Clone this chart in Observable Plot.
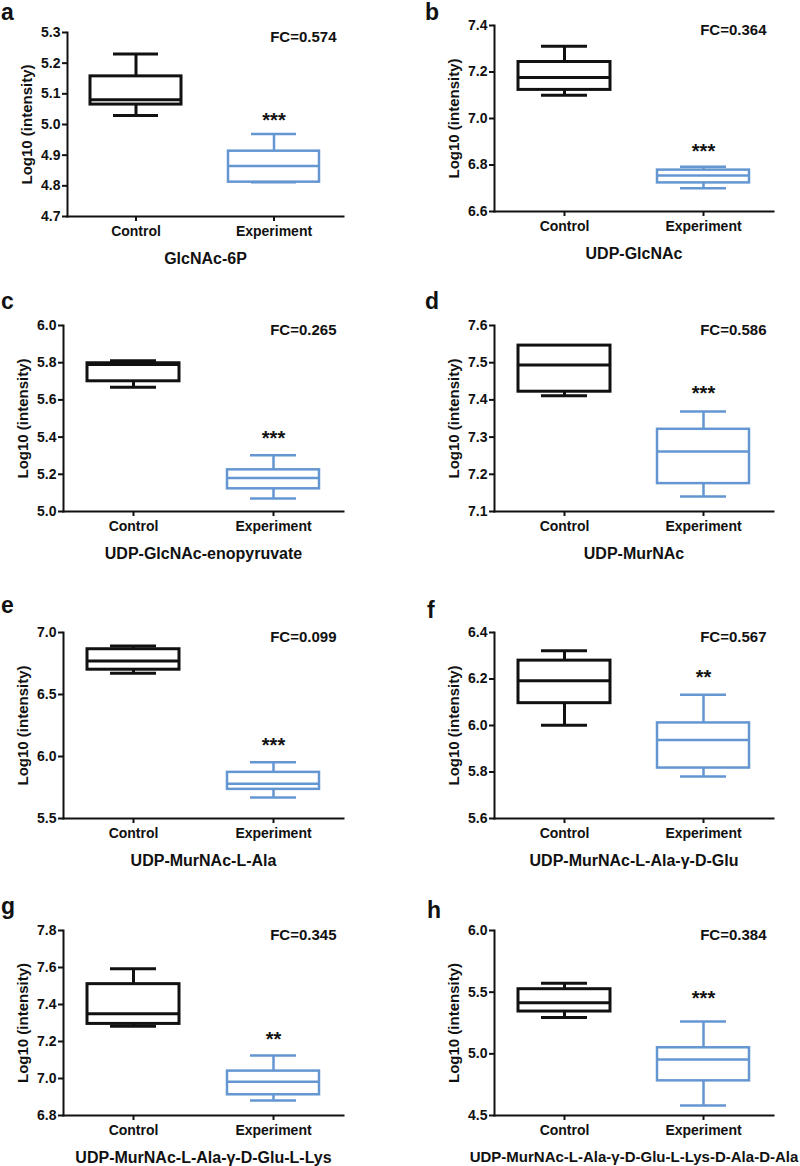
<!DOCTYPE html>
<html>
<head>
<meta charset="utf-8">
<script src="https://cdn.jsdelivr.net/npm/d3@7"></script>
<script src="https://cdn.jsdelivr.net/npm/@observablehq/plot@0.6"></script>
<style>
  html, body { margin: 0; padding: 0; background: #fff; }
  #root { position: relative; width: 800px; height: 1166px; overflow: hidden; font-family: "Liberation Sans", Arial, sans-serif; }
  .panel { position: absolute; }
  .letter { position: absolute; font-size: 23px; line-height: 23px; font-weight: bold; color: #111; }
</style>
</head>
<body>
<div id="root"></div>
<script>
// ---- data ----
const panelLetters = ["a", "b", "c", "d", "e", "f", "g", "h"];
const metabolites = [
  "GlcNAc-6P",
  "UDP-GlcNAc",
  "UDP-GlcNAc-enopyruvate",
  "UDP-MurNAc",
  "UDP-MurNAc-L-Ala",
  "UDP-MurNAc-L-Ala-γ-D-Glu",
  "UDP-MurNAc-L-Ala-γ-D-Glu-L-Lys",
  "UDP-MurNAc-L-Ala-γ-D-Glu-L-Lys-D-Ala-D-Ala"
];
const groups = ["Control", "Experiment"];
const foldChanges = ["FC=0.574", "FC=0.364", "FC=0.265", "FC=0.586", "FC=0.099", "FC=0.567", "FC=0.345", "FC=0.384"];
const sigLabels = ["***", "***", "***", "***", "***", "**", "**", "***"];
const sigY = [5.018, 6.868, 5.402, 7.422, 6.102, 6.216, 7.223, 5.468];
const yLabel = "Log10 (intensity)";

const yMin = [4.7, 6.6, 5.0, 7.1, 5.5, 5.6, 6.8, 4.5];
const yMax = [5.3, 7.4, 6.0, 7.6, 7.0, 6.4, 7.8, 6.0];
const yTicks = [
  [4.7, 4.8, 4.9, 5.0, 5.1, 5.2, 5.3],
  [6.6, 6.8, 7.0, 7.2, 7.4],
  [5.0, 5.2, 5.4, 5.6, 5.8, 6.0],
  [7.1, 7.2, 7.3, 7.4, 7.5, 7.6],
  [5.5, 6.0, 6.5, 7.0],
  [5.6, 5.8, 6.0, 6.2, 6.4],
  [6.8, 7.0, 7.2, 7.4, 7.6, 7.8],
  [4.5, 5.0, 5.5, 6.0]
];

// Control box statistics
const ctlMin = [5.029, 7.100, 5.668, 7.411, 6.671, 6.001, 7.283, 5.295];
const ctlQ1  = [5.065, 7.123, 5.700, 7.422, 6.700, 6.096, 7.295, 5.343];
const ctlMed = [5.081, 7.176, 5.790, 7.494, 6.771, 6.193, 7.350, 5.414];
const ctlQ3  = [5.157, 7.243, 5.797, 7.546, 6.865, 6.279, 7.510, 5.524];
const ctlMax = [5.230, 7.311, 5.810, 7.546, 6.892, 6.322, 7.593, 5.573];
// Experiment box statistics
const expMin = [4.812, 6.700, 5.070, 7.140, 5.670, 5.781, 6.881, 4.581];
const expQ1  = [4.812, 6.723, 5.122, 7.175, 5.735, 5.817, 6.912, 4.781];
const expMed = [4.865, 6.755, 5.180, 7.261, 5.781, 5.938, 6.982, 4.954];
const expQ3  = [4.913, 6.778, 5.224, 7.321, 5.872, 6.011, 7.040, 5.049];
const expMax = [4.969, 6.792, 5.302, 7.369, 5.953, 6.132, 7.124, 5.262];

// ---- layout (page pixels) ----
const rowTops = [0, 290, 590, 885];
const layout = [
  {col: 0,   row: 0, plotLeft: 67,  plotRight: 343, plotTop: 32,  plotBottom: 216, letterX: 1,   letterTop: 1,   titleSize: 16},
  {col: 400, row: 0, plotLeft: 494, plotRight: 773, plotTop: 25,  plotBottom: 211, letterX: 425, letterTop: 1,   titleSize: 16},
  {col: 0,   row: 1, plotLeft: 63,  plotRight: 343, plotTop: 325, plotBottom: 511, letterX: 1,   letterTop: 290, titleSize: 16},
  {col: 400, row: 1, plotLeft: 494, plotRight: 773, plotTop: 325, plotBottom: 511, letterX: 425, letterTop: 290, titleSize: 16},
  {col: 0,   row: 2, plotLeft: 63,  plotRight: 343, plotTop: 632, plotBottom: 818, letterX: 1,   letterTop: 594, titleSize: 16},
  {col: 400, row: 2, plotLeft: 494, plotRight: 773, plotTop: 632, plotBottom: 818, letterX: 427, letterTop: 599, titleSize: 16},
  {col: 0,   row: 3, plotLeft: 63,  plotRight: 343, plotTop: 930, plotBottom: 1115, letterX: 1,  letterTop: 895, titleSize: 16},
  {col: 400, row: 3, plotLeft: 494, plotRight: 773, plotTop: 930, plotBottom: 1115, letterX: 427, letterTop: 899, titleSize: 15}
];

const BLUE = "#6496d2";
const BLACK = "#111111";
const FONT = "'Liberation Sans', Arial, sans-serif";
const root = document.getElementById("root");

function makePanel(i) {
  const L = layout[i];
  const svgTop = rowTops[L.row];
  const mTop = L.plotTop - svgTop, mBottom = 52;
  const rows = [
    {group: groups[0], min: ctlMin[i], q1: ctlQ1[i], med: ctlMed[i], q3: ctlQ3[i], max: ctlMax[i]},
    {group: groups[1], min: expMin[i], q1: expQ1[i], med: expMed[i], q3: expQ3[i], max: expMax[i]}
  ];
  const sw = d => d.group === "Control" ? 3 : 2.5;
  const plot = Plot.plot({
    width: 400,
    height: mTop + (L.plotBottom - L.plotTop) + mBottom,
    marginLeft: L.plotLeft - L.col,
    marginRight: L.col + 400 - L.plotRight,
    marginTop: mTop,
    marginBottom: mBottom,
    style: {fontFamily: FONT, fontSize: "14px", fontWeight: "bold", color: BLACK, background: "transparent", overflow: "visible"},
    x: {type: "band", domain: groups, paddingInner: 0.34, paddingOuter: 0.17, axis: null},
    y: {domain: [yMin[i], yMax[i]], axis: null},
    color: {domain: groups, range: [BLACK, BLUE]},
    marks: [
      // whiskers
      Plot.ruleX(rows, {x: "group", y1: "q3", y2: "max", stroke: "group", strokeWidth: sw}),
      Plot.ruleX(rows, {x: "group", y1: "min", y2: "q1", stroke: "group", strokeWidth: sw}),
      Plot.tickY(rows, {x: "group", y: "max", stroke: "group", strokeWidth: sw, insetLeft: 23, insetRight: 23}),
      Plot.tickY(rows, {x: "group", y: "min", stroke: "group", strokeWidth: sw, insetLeft: 23, insetRight: 23}),
      // box
      Plot.barY(rows, {x: "group", y1: "q1", y2: "q3", fill: "white", stroke: "group", strokeWidth: sw}),
      Plot.tickY(rows, {x: "group", y: "med", stroke: "group", strokeWidth: sw}),
      // axes
      Plot.axisY({ticks: yTicks[i], tickFormat: d => d.toFixed(1), tickSize: 5, tickPadding: 2, strokeWidth: 2, fontSize: 14, fontWeight: "bold", label: null}),
      Plot.axisX({tickSize: 5, tickPadding: 5, strokeWidth: 2, fontSize: 14, fontWeight: "bold", label: null}),
      Plot.frame({anchor: "left", strokeWidth: 2, stroke: BLACK}),
      Plot.frame({anchor: "bottom", strokeWidth: 2, stroke: BLACK}),
      // annotations
      Plot.text([sigLabels[i]], {x: () => "Experiment", y: () => sigY[i], text: d => d, fontSize: 20, fontWeight: "bold", dy: 2, fill: BLACK}),
      Plot.text([foldChanges[i]], {frameAnchor: "top-right", text: d => d, textAnchor: "end", lineAnchor: "middle", dx: -7, dy: 5, fontSize: 15, fontWeight: "bold", fill: BLACK}),
      Plot.text([yLabel], {frameAnchor: "left", text: d => d, rotate: -90, textAnchor: "middle", lineAnchor: "middle", dx: -40, fontSize: 15, fontWeight: "bold", fill: BLACK}),
      Plot.text([metabolites[i]], {frameAnchor: "bottom", text: d => d, textAnchor: "middle", lineAnchor: "middle", dy: 42, fontSize: L.titleSize, fontWeight: "bold", fill: BLACK})
    ]
  });
  plot.classList.add("panel");
  plot.style.left = L.col + "px";
  plot.style.top = svgTop + "px";
  root.appendChild(plot);

  const letter = document.createElement("div");
  letter.className = "letter";
  letter.textContent = panelLetters[i];
  letter.style.left = L.letterX + "px";
  letter.style.top = L.letterTop + "px";
  root.appendChild(letter);
}

for (let i = 0; i < panelLetters.length; i++) makePanel(i);
</script>
</body>
</html>
